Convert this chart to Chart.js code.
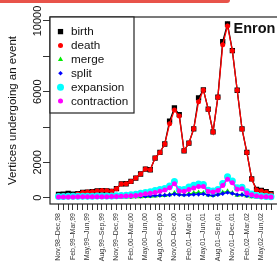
<!DOCTYPE html>
<html lang="en">
<head>
  <meta charset="UTF-8">
  <title>Enron vertex events</title>
  <script src="https://cdn.jsdelivr.net/npm/chart.js"></script>
  <style>
    body {
      margin: 0;
      width: 277px;
      height: 263px;
      overflow: hidden;
      background: white;
      position: relative;
    }
    #topbar {
      position: absolute;
      left: 0;
      top: 0;
      width: 230px;
      height: 3px;
      background: #e8534a;
      border-bottom-right-radius: 3px;
    }
  </style>
</head>
<body>
  <div id="topbar"></div>
  <canvas id="eventsChart" width="290" height="263"></canvas>

  <script>
    // two-month windows, one per month
    const windows = [
      'Nov,98–Dec,98', 'Dec,98–Jan,99', 'Jan,99–Feb,99', 'Feb,99–Mar,99', 'Mar,99–Apr,99',
      'Apr,99–May,99', 'May,99–Jun,99', 'Jun,99–Jul,99', 'Jul,99–Aug,99', 'Aug,99–Sep,99',
      'Sep,99–Oct,99', 'Oct,99–Nov,99', 'Nov,99–Dec,99', 'Dec,99–Jan,00', 'Jan,00–Feb,00',
      'Feb,00–Mar,00', 'Mar,00–Apr,00', 'Apr,00–May,00', 'May,00–Jun,00', 'Jun,00–Jul,00',
      'Jul,00–Aug,00', 'Aug,00–Sep,00', 'Sep,00–Oct,00', 'Oct,00–Nov,00', 'Nov,00–Dec,00',
      'Dec,00–Jan,01', 'Jan,01–Feb,01', 'Feb,01–Mar,01', 'Mar,01–Apr,01', 'Apr,01–May,01',
      'May,01–Jun,01', 'Jun,01–Jul,01', 'Jul,01–Aug,01', 'Aug,01–Sep,01', 'Sep,01–Oct,01',
      'Oct,01–Nov,01', 'Nov,01–Dec,01', 'Dec,01–Jan,02', 'Jan,02–Feb,02', 'Feb,02–Mar,02',
      'Mar,02–Apr,02', 'Apr,02–May,02', 'May,02–Jun,02', 'Jun,02–Jul,02', 'Jul,02–Aug,02'
    ];

    const birth = [180, 200, 240, 200, 230, 300, 320, 340, 380, 400, 390, 360, 510, 780, 790,
      920, 1110, 1340, 1620, 1580, 2240, 2560, 3040, 4330, 5080, 4700, 2650, 3090, 3900, 5650,
      6100, 5010, 3720, 5690, 8830, 9830, 8320, 6080, 3890, 2560, 1060, 470, 410, 340, 230];
    const death = [110, 120, 140, 130, 210, 300, 320, 340, 380, 400, 390, 360, 510, 780, 790,
      920, 1110, 1340, 1620, 1580, 2240, 2560, 3040, 4180, 4960, 4620, 2650, 3090, 3900, 5430,
      6100, 5010, 3720, 5690, 8650, 9720, 8320, 6080, 3890, 2560, 1060, 430, 380, 310, 200];
    const merge = [15, 15, 15, 15, 20, 20, 20, 20, 25, 25, 25, 25, 30, 30, 35,
      40, 50, 60, 70, 80, 100, 120, 130, 170, 260, 200, 160, 220, 260, 300,
      260, 150, 120, 200, 300, 360, 260, 140, 160, 90, 60, 40, 30, 20, 20];
    const split = [20, 20, 25, 25, 30, 30, 30, 35, 35, 35, 40, 40, 45, 50, 55,
      60, 70, 80, 90, 100, 120, 130, 140, 160, 200, 170, 150, 160, 180, 190,
      210, 150, 130, 170, 230, 290, 240, 170, 170, 110, 80, 50, 40, 30, 30];
    const expansion = [70, 70, 75, 75, 80, 80, 85, 85, 90, 90, 95, 100, 110, 130, 140,
      170, 200, 250, 300, 330, 400, 470, 520, 660, 920, 470, 460, 600, 700, 780,
      740, 420, 380, 470, 800, 1180, 950, 560, 590, 330, 210, 130, 90, 70, 60];
    const contraction = [40, 40, 45, 45, 50, 50, 55, 55, 60, 60, 60, 65, 70, 80, 90,
      110, 130, 170, 220, 250, 300, 360, 430, 560, 790, 380, 370, 470, 550, 630,
      630, 350, 320, 400, 690, 1050, 840, 480, 510, 260, 160, 90, 60, 50, 45];

    const yTicks = [0, 2000, 4000, 6000, 8000, 10000];
    const yShown = [0, 2000, 6000, 10000];

    const FONT = 'Liberation Sans, Arial, Helvetica, sans-serif';
    Chart.defaults.font.family = FONT;

    function series(label, values, color, style, radius, order) {
      return {
        label: label,
        data: values.map((v, i) => ({ x: i, y: v })),
        borderColor: color,
        backgroundColor: color,
        borderWidth: 1.3,
        pointStyle: style,
        pointRadius: radius,
        pointBackgroundColor: color,
        pointBorderColor: color,
        pointBorderWidth: 0,
        tension: 0,
        fill: false,
        order: order
      };
    }

    function drawMarker(ctx, style, x, y, r, color) {
      ctx.save();
      ctx.fillStyle = color;
      ctx.beginPath();
      if (style === 'rect') {
        const h = r * Math.SQRT1_2;
        ctx.rect(x - h, y - h, 2 * h, 2 * h);
      } else if (style === 'triangle') {
        ctx.moveTo(x, y - r);
        ctx.lineTo(x + r * 0.866, y + r * 0.5);
        ctx.lineTo(x - r * 0.866, y + r * 0.5);
        ctx.closePath();
      } else if (style === 'rectRot') {
        ctx.moveTo(x, y - r);
        ctx.lineTo(x + r, y);
        ctx.lineTo(x, y + r);
        ctx.lineTo(x - r, y);
        ctx.closePath();
      } else {
        ctx.arc(x, y, r, 0, Math.PI * 2);
      }
      ctx.fill();
      ctx.restore();
    }

    // plot frame, boxed legend and the network name
    const frameAndLegend = {
      id: 'frameAndLegend',
      afterDatasetsDraw(chart) {
        const ctx = chart.ctx;
        const a = chart.chartArea;
        ctx.save();
        ctx.strokeStyle = '#222';
        ctx.lineWidth = 1.2;
        ctx.strokeRect(a.left, a.top, a.right - a.left, a.bottom - a.top);

        // legend box
        ctx.fillStyle = 'white';
        ctx.fillRect(a.left, a.top, 84, 96);
        ctx.strokeRect(a.left, a.top, 84, 96);
        ctx.font = '11.7px ' + FONT;
        ctx.textBaseline = 'middle';
        chart.data.datasets.forEach((ds, i) => {
          const y = a.top + 14.6 + i * 13.9;
          drawMarker(ctx, ds.pointStyle, a.left + 10.5, y, ds.pointRadius, ds.borderColor);
          ctx.fillStyle = '#111';
          ctx.fillText(ds.label, a.left + 21, y + 0.5);
        });

        ctx.font = 'bold 14.5px ' + FONT;
        ctx.textBaseline = 'alphabetic';
        ctx.fillStyle = '#111';
        ctx.fillText('Enron', 233.5, 32.5);
        ctx.restore();
      }
    };

    const ctx = document.getElementById('eventsChart').getContext('2d');

    new Chart(ctx, {
      type: 'line',
      data: {
        datasets: [
          series('birth', birth, '#000000', 'rect', 3.75, 6),
          series('death', death, '#ff0000', 'circle', 2.5, 5),
          series('merge', merge, '#00ee00', 'triangle', 3, 4),
          series('split', split, '#0000ff', 'rectRot', 2.3, 3),
          series('expansion', expansion, '#00ffff', 'circle', 3.5, 2),
          series('contraction', contraction, '#ff00ff', 'circle', 2.5, 1)
        ]
      },
      options: {
        responsive: false,
        animation: false,
        events: [],
        layout: { padding: { top: 17, right: 10.5, left: 0, bottom: 0 } },
        plugins: {
          legend: { display: false },
          tooltip: { enabled: false }
        },
        scales: {
          x: {
            type: 'linear',
            min: -1.76,
            max: 45.76,
            afterBuildTicks: (scale) => {
              scale.ticks = windows.map((_, i) => ({ value: i }));
            },
            afterFit: (scale) => { scale.height = 59; },
            border: { display: false },
            grid: { drawOnChartArea: false, drawTicks: true, tickLength: 6, color: '#333', lineWidth: 1 },
            ticks: {
              autoSkip: false,
              minRotation: 90,
              maxRotation: 90,
              padding: 3,
              color: '#333',
              font: { size: 7 },
              callback: (v) => (v % 3 === 0 ? windows[v] : '')
            }
          },
          y: {
            min: -357,
            max: 10226,
            afterBuildTicks: (scale) => {
              scale.ticks = yTicks.map((v) => ({ value: v }));
            },
            afterFit: (scale) => { scale.width = 50; },
            border: { display: false },
            grid: { drawOnChartArea: false, drawTicks: true, tickLength: 7, color: '#333', lineWidth: 1 },
            ticks: {
              minRotation: 90,
              maxRotation: 90,
              crossAlign: 'center',
              padding: -10.3,
              color: '#111',
              font: { size: 11 },
              callback: (v) => (yShown.includes(v) ? String(v) : '')
            },
            title: {
              display: true,
              text: 'Vertices undergoing an event',
              color: '#111',
              font: { size: 11.5 },
              padding: { top: 6, bottom: 0 }
            }
          }
        }
      },
      plugins: [frameAndLegend]
    });
  </script>
</body>
</html>
